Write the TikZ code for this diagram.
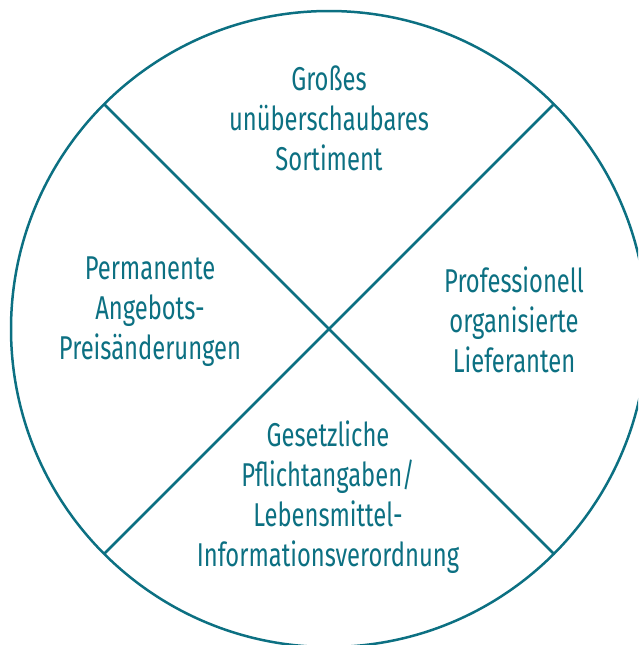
\documentclass[tikz,border=0pt]{standalone}
\usepackage{fontspec}
\setmainfont{Fira Sans}[FakeStretch=0.72]
\usepackage{xcolor}
\usetikzlibrary{positioning, calc}
\definecolor{petrol}{RGB}{12,112,130}
\tikzset{
  field/.style={text=petrol, align=center, inner sep=0pt, font=\fontsize{33}{40}\selectfont},
  border/.style={draw=petrol, line width=2.5pt}
}

\begin{document}
\begin{tikzpicture}[x=1pt,y=-1pt]
				  \useasboundingbox (0,0) rectangle (638,645);
				  \clip (0,0) rectangle (638,645);
				  \coordinate (m) at (329,329);
				  \coordinate (nw) at ($(m)+(-225,-225)$);
				  \coordinate (ne) at ($(m)+(225,-225)$);
				  \coordinate (sw) at ($(m)+(-225,225)$);
				  \coordinate (se) at ($(m)+(225,225)$);
				  \draw[border] (m) circle (318);
				  \draw[border] (nw) -- (se);
				  \draw[border] (ne) -- (sw);
				  \node[field] (top) at (329,118) {Großes\\unüberschaubares\\Sortiment};
				  \node[field] (left) at (150,312) {Permanente\\Angebots-\\Preisänderungen};
				  \node[field] (right) at (514,320) {Professionell\\organisierte\\Lieferanten};
				  \node[field] (bottom) at (328,497) {Gesetzliche\\Pflichtangaben/\\Lebensmittel-\\Informationsverordnung};
				\end{tikzpicture}
\end{document}
